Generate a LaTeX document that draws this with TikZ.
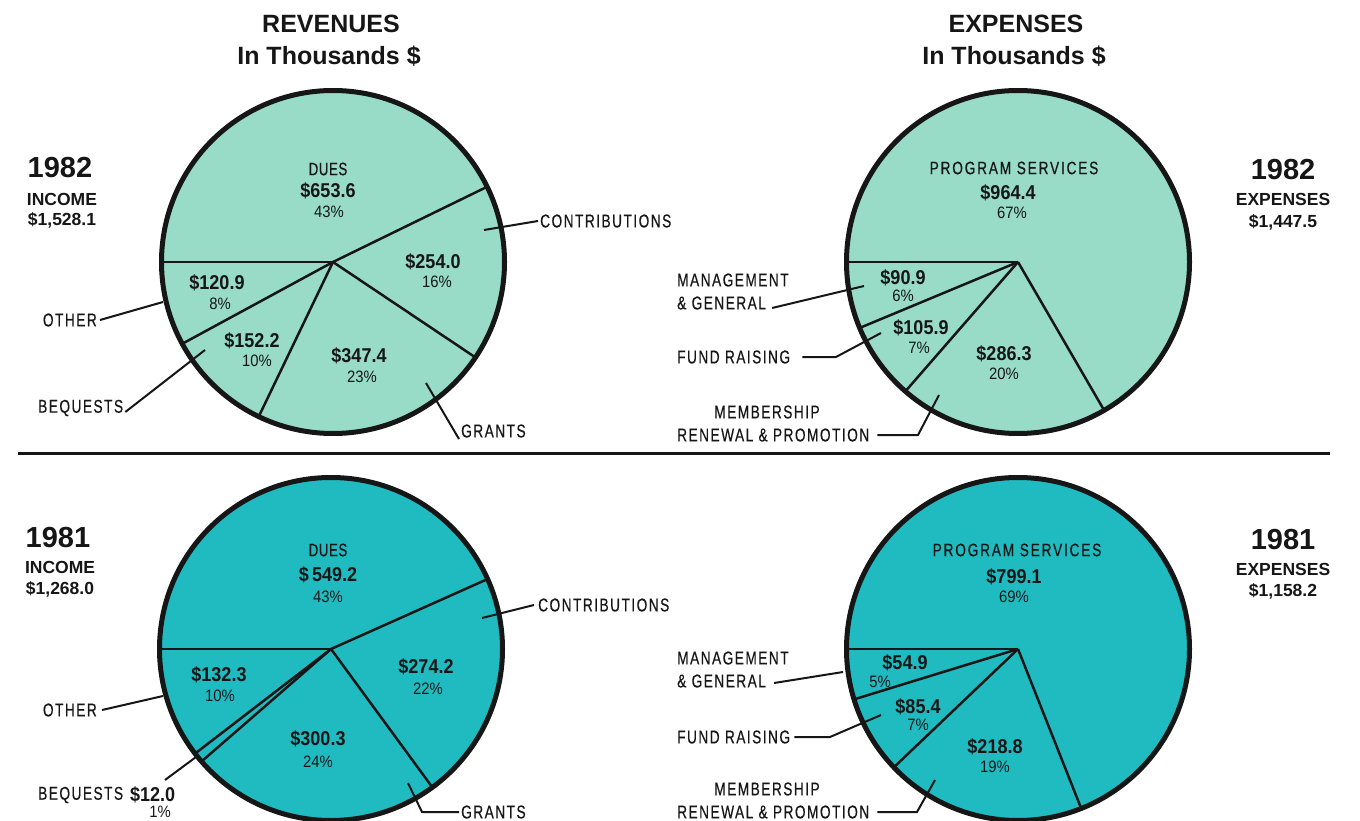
\documentclass[tikz,border=0pt]{standalone}
\usepackage{fontspec}
\setmainfont{Liberation Sans}
\newfontfamily\cnd[FakeStretch=0.74,LetterSpace=8,FakeBold=0.4]{Liberation Sans}
\newfontfamily\cnin[FakeStretch=0.74,LetterSpace=3,FakeBold=0.4]{Liberation Sans}
\newfontfamily\cnwide[FakeStretch=0.76,LetterSpace=10,FakeBold=0.4]{Liberation Sans}
\newfontfamily\numf[FakeStretch=0.9]{Liberation Sans}
\definecolor{lt}{RGB}{152,220,200}
\definecolor{dk}{RGB}{32,187,192}
\definecolor{ink}{RGB}{22,22,22}
\begin{document}
\begin{tikzpicture}[x=1pt,y=-1pt,
  every node/.style={text=ink,inner sep=0pt},
  title/.style={font=\bfseries\fontsize{25}{25}\selectfont},
  year/.style={font=\bfseries\fontsize{29}{29}\selectfont},
  tot/.style={font=\bfseries\fontsize{17.5}{17.5}\selectfont},
  val/.style={font=\numf\bfseries\fontsize{20}{20}\selectfont},
  pct/.style={font=\numf\fontsize{16.5}{16.5}\selectfont},
  cat/.style={font=\cnin\fontsize{18}{18}\selectfont},
  catw/.style={font=\cnwide\fontsize{18}{18}\selectfont},
  lab/.style={font=\cnd\fontsize{18.5}{18.5}\selectfont},
  rim/.style={line width=5pt,draw=ink},
  spoke/.style={line width=2.5pt,draw=ink},
  lead/.style={line width=2pt,draw=ink},
]
\useasboundingbox (0,0) rectangle (1360,821);

% titles
\node[title] (t1) at (331,24) {REVENUES};
\node[title] (t2) at (329,56) {In Thousands \$};
\node[title] (t3) at (1016,24) {EXPENSES};
\node[title] (t4) at (1014,56) {In Thousands \$};

% divider
\draw[line width=3pt,draw=ink] (18,453) -- (1330,453);

% pie centres
\coordinate (r82) at (333,262);
\coordinate (e82) at (1018,262);
\coordinate (r81) at (331,649);
\coordinate (e81) at (1018,649);

% pies
\foreach \c/\col/\angs in {r82/lt/{180,-26.02,33.82,115.66,151.52},
                           r81/dk/{180,-24.08,53.77,139.03,142.44},
                           e82/lt/{180,59.85,131.05,157.39},
                           e81/dk/{180,68.38,136.39,162.93}}{
  \fill[\col] (\c) circle[radius=171.5];
  \begin{scope}
    \clip (\c) circle[radius=171.5];
    \foreach \a in \angs { \draw[spoke] (\c) -- ++(\a:200); }
  \end{scope}
  \draw[rim] (\c) circle[radius=171.5];
}

% ---------- Revenues 1982 ----------
\node[year] (y82l) at (60,168) {1982};
\node[tot] (inc82) at (62,199) {INCOME};
\node[tot] (sum82) at (62,220) {\$1,528.1};

\node[cat] (dues82) at (328,169) {DUES};
\node[val] (duesv82) at (328,191) {\$653.6};
\node[pct] (duesp82) at (329,212) {43\%};
\node[val] (conv82) at (433,262) {\$254.0};
\node[pct] (conp82) at (437,282) {16\%};
\node[val] (othv82) at (217,283) {\$120.9};
\node[pct] (othp82) at (220,304) {8\%};
\node[val] (beqv82) at (252,341) {\$152.2};
\node[pct] (beqp82) at (257,361) {10\%};
\node[val] (grav82) at (359,356) {\$347.4};
\node[pct] (grap82) at (362,377) {23\%};

\node[lab,anchor=west] (con82) at (540,221) {CONTRIBUTIONS};
\node[lab,anchor=east] (oth82) at (97,320) {OTHER};
\node[lab,anchor=west] (beq82) at (38,408) {BEQUESTS};
\node[lab,anchor=west] (gra82) at (461,431) {GRANTS};
\coordinate (conp) at (484,230);
\coordinate (othp) at (163,302);
\coordinate (beqp) at (205,350);
\coordinate (grap) at (426,383);
\draw[lead] (conp) -- ([xshift=-2pt]con82.west);
\draw[lead] ([xshift=3pt]oth82.east) -- (othp);
\draw[lead] ([xshift=2pt,yshift=-4pt]beq82.east) -- (beqp);
\draw[lead] (grap) -- ([xshift=-2pt,yshift=-8pt]gra82.west);

% ---------- Revenues 1981 ----------
\node[year] (y81l) at (58,538) {1981};
\node[tot] (inc81) at (60,567) {INCOME};
\node[tot] (sum81) at (60,589) {\$1,268.0};

\node[cat] (dues81) at (328,550) {DUES};
\node[val] (duesv81) at (328,575) {\$\,549.2};
\node[pct] (duesp81) at (328,597) {43\%};
\node[val] (othv81) at (219,675) {\$132.3};
\node[pct] (othp81) at (220,696) {10\%};
\node[val] (conv81) at (426,667) {\$274.2};
\node[pct] (conp81) at (428,689) {22\%};
\node[val] (grav81) at (318,739) {\$300.3};
\node[pct] (grap81) at (318,762) {24\%};

\node[lab,anchor=west] (con81) at (538,605) {CONTRIBUTIONS};
\node[lab,anchor=east] (oth81) at (97,710) {OTHER};
\node[lab,anchor=west] (beq81) at (38,795) {BEQUESTS};
\node[val,anchor=west] (beqv81) at (130,795) {\$12.0};
\node[pct] (beqp81) at (160,812) {1\%};
\node[lab,anchor=west] (gra81) at (461,812) {GRANTS};
\coordinate (conq) at (482,618);
\coordinate (othq) at (163,696);
\coordinate (beqq) at (196,757);
\coordinate (beqs) at (165,780);
\coordinate (graq) at (408,783);
\coordinate (grak) at (422,812);
\draw[lead] (conq) -- ([xshift=-4pt]con81.west);
\draw[lead] ([xshift=5pt]oth81.east) -- (othq);
\draw[lead] (beqs) -- (beqq);
\draw[lead] ([xshift=-2pt]gra81.west) -- (grak) -- (graq);

% ---------- Expenses 1982 ----------
\node[year] (y82r) at (1283,170) {1982};
\node[tot] (exp82) at (1283,199) {EXPENSES};
\node[tot] (esum82) at (1283,222) {\$1,447.5};

\node[catw] (ps82) at (1014,168) {PROGRAM SERVICES};
\node[val] (psv82) at (1008,193) {\$964.4};
\node[pct] (psp82) at (1012,213) {67\%};
\node[val] (mgv82) at (903,278) {\$90.9};
\node[pct] (mgp82) at (903,296) {6\%};
\node[val] (frv82) at (921,328) {\$105.9};
\node[pct] (frp82) at (919,348) {7\%};
\node[val] (msv82) at (1004,354) {\$286.3};
\node[pct] (msp82) at (1004,374) {20\%};

\node[lab,anchor=west] (mga82) at (677,280) {MANAGEMENT};
\node[lab,anchor=west] (mgb82) at (677,303) {\& GENERAL};
\node[lab,anchor=west] (fr82) at (677,357) {FUND RAISING};
\node[lab] (msa82) at (767,412) {MEMBERSHIP};
\node[lab,anchor=west] (msb82) at (677,435) {RENEWAL \& PROMOTION};
\coordinate (mgq82) at (864,286);
\coordinate (frk82) at (836,357);
\coordinate (frq82) at (881,333);
\coordinate (msk82) at (918,435);
\coordinate (msq82) at (939,395);
\draw[lead] ([xshift=6pt,yshift=-5pt]mgb82.east) -- (mgq82);
\draw[lead] ([xshift=12pt]fr82.east) -- (frk82) -- (frq82);
\draw[lead] ([xshift=8pt]msb82.east) -- (msk82) -- (msq82);

% ---------- Expenses 1981 ----------
\node[year] (y81r) at (1283,540) {1981};
\node[tot] (exp81) at (1283,569) {EXPENSES};
\node[tot] (esum81) at (1283,591) {\$1,158.2};

\node[catw] (ps81) at (1017,550) {PROGRAM SERVICES};
\node[val] (psv81) at (1014,577) {\$799.1};
\node[pct] (psp81) at (1014,597) {69\%};
\node[val] (mgv81) at (905,663) {\$54.9};
\node[pct] (mgp81) at (880,682) {5\%};
\node[val] (frv81) at (918,707) {\$85.4};
\node[pct] (frp81) at (918,725) {7\%};
\node[val] (msv81) at (995,747) {\$218.8};
\node[pct] (msp81) at (995,767) {19\%};

\node[lab,anchor=west] (mga81) at (677,658) {MANAGEMENT};
\node[lab,anchor=west] (mgb81) at (677,681) {\& GENERAL};
\node[lab,anchor=west] (fr81) at (677,737) {FUND RAISING};
\node[lab] (msa81) at (767,789) {MEMBERSHIP};
\node[lab,anchor=west] (msb81) at (677,812) {RENEWAL \& PROMOTION};
\coordinate (mgq81) at (843,672);
\coordinate (frk81) at (830,737);
\coordinate (frq81) at (881,715);
\coordinate (msk81) at (917,812);
\coordinate (msq81) at (935,780);
\draw[lead] ([xshift=8pt,yshift=-2pt]mgb81.east) -- (mgq81);
\draw[lead] ([xshift=4pt]fr81.east) -- (frk81) -- (frq81);
\draw[lead] ([xshift=8pt]msb81.east) -- (msk81) -- (msq81);
\end{tikzpicture}
\end{document}
